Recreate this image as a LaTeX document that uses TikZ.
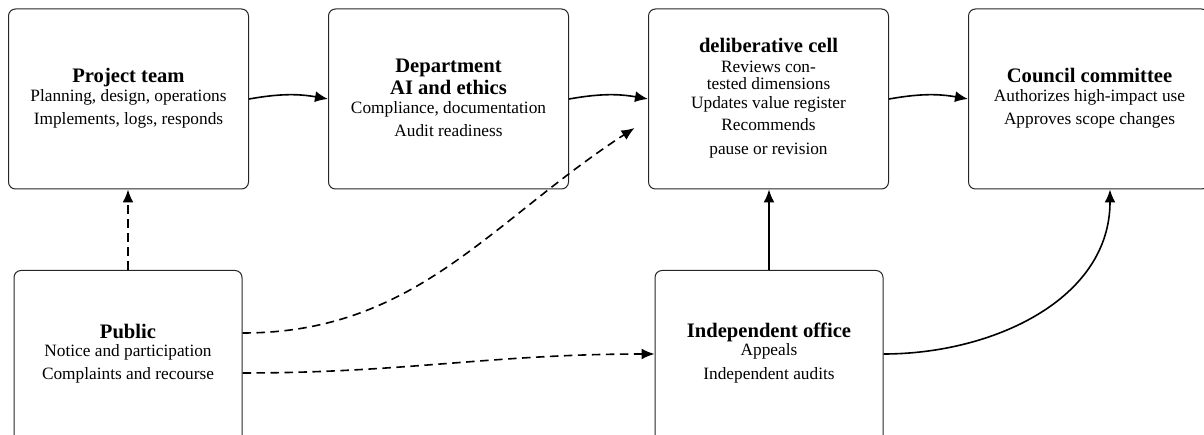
\documentclass[tikz,border=0pt]{standalone}
\usepackage{fontspec}
\setmainfont{Liberation Serif}
\usetikzlibrary{arrows.meta,calc}
\begin{document}
\begin{tikzpicture}[x=1pt,y=1pt,
  box/.style={draw=black!85, line width=1pt, rounded corners=7pt, minimum width=240pt, minimum height=180pt, inner sep=0pt},
  lowbox/.style={box, minimum width=228pt, minimum height=190pt},
  head/.style={anchor=base, inner sep=0pt, font=\fontsize{20.6}{24}\selectfont\bfseries},
  body/.style={anchor=base, inner sep=0pt, font=\fontsize{17.3}{20}\selectfont},
  flow/.style={line width=1.6pt, -{Latex[length=13pt,width=11pt]}},
  dflow/.style={flow, dash pattern=on 8.5pt off 5.5pt},
]
\useasboundingbox (0,0) rectangle (1204,434);
\clip (0,0) rectangle (1204,434);

% boxes
\node[box] (A) at (128.5,335) {};
\node[box] (B) at (448.5,335) {};
\node[box] (C) at (768.5,335) {};
\node[box] (D) at (1088.5,335) {};
\node[lowbox] (E) at (128,68.5) {};
\node[lowbox] (F) at (769,68.5) {};

% texts
\node[head] (A0) at (128.5,351.5) {Project team};
\node[body] (A1) at (128.5,332) {Planning, design, operations};
\node[body] (A2) at (128.5,309.5) {Implements, logs, responds};

\node[head] (B0) at (448.5,361) {Department};
\node[head] (B1) at (448.5,339) {AI and ethics};
\node[body] (B2) at (448.5,320) {Compliance, documentation};
\node[body] (B3) at (448.5,297) {Audit readiness};

\node[head] (C0) at (768.5,381) {deliberative cell};
\node[body] (C1) at (768.5,361) {Reviews con-};
\node[body] (C2) at (768.5,344) {tested dimensions};
\node[body] (C3) at (768.5,325) {Updates value register};
\node[body] (C4) at (768.5,303) {Recommends};
\node[body] (C5) at (768.5,279) {pause or revision};

\node[head] (D0) at (1089.5,351.5) {Council committee};
\node[body] (D1) at (1089.5,332) {Authorizes high-impact use};
\node[body] (D2) at (1089.5,309.5) {Approves scope changes};

\node[head] (E0) at (128,95.3) {Public};
\node[body] (E1) at (128,77.3) {Notice and participation};
\node[body] (E2) at (128,54.7) {Complaints and recourse};

\node[head] (F0) at (769,96.3) {Independent office};
\node[body] (F1) at (769,78.3) {Appeals};
\node[body] (F2) at (769,54.7) {Independent audits};

% connectors
\draw[flow] (A.east) to[bend left=10] (B.west);
\draw[flow] (B.east) to[bend left=10] (C.west);
\draw[flow] (C.east) to[bend left=10] (D.west);
\draw[dflow] (E.north) -- (E.north |- A.south);
\draw[dflow] ([yshift=32.5pt]E.east) to[out=0,in=213] ([shift={(-13.5pt,-29pt)}]C.west);
\draw[dflow] ([yshift=-7.5pt]E.east) to[out=0,in=180] ([yshift=11.5pt]F.west);
\draw[flow] (F.north) -- (F.north |- C.south);
\draw[flow] ([yshift=11.5pt]F.east) to[out=0,in=-90] ([xshift=21.5pt]D.south);
\end{tikzpicture}
\end{document}
